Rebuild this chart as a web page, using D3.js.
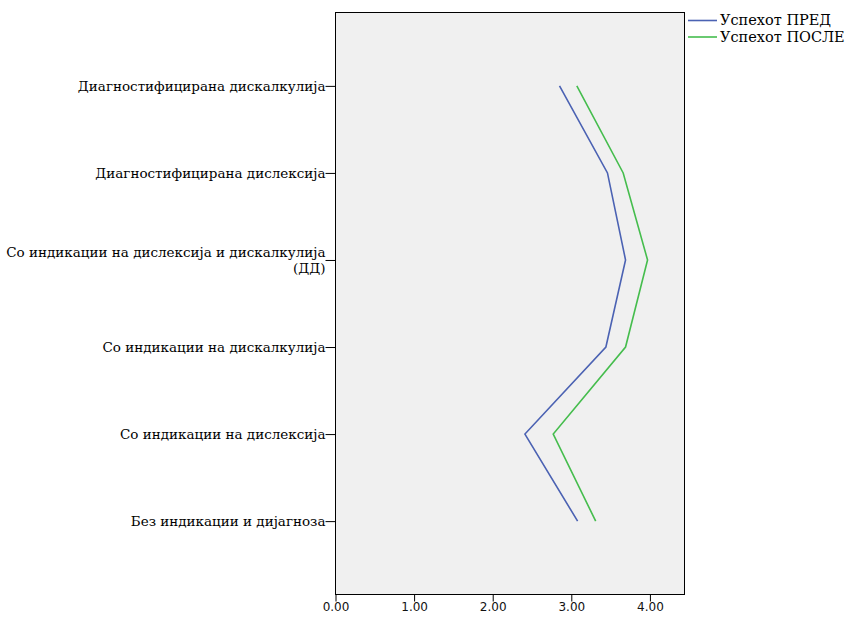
<!DOCTYPE html>
<html><head><meta charset="utf-8">
<script src="https://cdn.jsdelivr.net/npm/d3@7"></script>
<style>body{margin:0;background:#fff}</style>
</head><body>
<svg id="c" width="845" height="620"></svg>
<script>
const categories = [
  "Диагностифицирана дискалкулија",
  "Диагностифицирана дислексија",
  "Со индикации на дислексија и дискалкулија|(ДД)",
  "Со индикации на дискалкулија",
  "Со индикации на дислексија",
  "Без индикации и дијагноза"
];
const seriesNames = ["Успехот ПРЕД", "Успехот ПОСЛЕ"];
const pred  = [2.85, 3.46, 3.69, 3.44, 2.41, 3.08];
const posle = [3.07, 3.66, 3.97, 3.69, 2.77, 3.31];
const xTicks = [0, 1, 2, 3, 4];
const colors = ["#4b62b3", "#45bd4d"];

const svg = d3.select("#c");
const L = 335.5, R = 684.5, T = 12.5, B = 594.5;
const x = d3.scaleLinear().domain([0, 4.44]).range([L, R]);
const y = d3.scalePoint().domain(categories).range([T, B]).padding(0.843);

svg.append("rect").attr("x", L).attr("y", T).attr("width", R - L).attr("height", B - T)
  .attr("fill", "#f0f0f0").attr("stroke", "#000").attr("stroke-width", 1);

// x axis
const xa = svg.append("g").attr("transform", `translate(0,${B})`)
  .call(d3.axisBottom(x).tickValues(xTicks).tickFormat(d3.format(".2f")).tickSize(7).tickSizeOuter(0));
xa.select(".domain").remove();
xa.selectAll("line").attr("stroke", "#000");
xa.selectAll("text").attr("font-family", "DejaVu Sans").attr("font-size", 12).attr("fill", "#111").attr("dy", "0.85em").attr("y", 6);

// y axis
const ya = svg.append("g").attr("transform", `translate(${L},0)`)
  .call(d3.axisLeft(y).tickSize(10).tickSizeOuter(0).tickFormat(""));
ya.select(".domain").remove();
ya.selectAll("line").attr("stroke", "#000");
ya.selectAll(".tick").each(function(d) {
  const parts = d.split("|");
  const t = d3.select(this).append("text")
    .attr("x", -10).attr("text-anchor", "end")
    .attr("font-family", "DejaVu Serif").attr("font-size", 13.5).attr("fill", "#000");
  const off = -(parts.length - 1) * 8;
  parts.forEach((p, i) => {
    t.append("tspan").attr("x", -10).attr("y", off + i * 16).attr("dy", "0.32em").text(p);
  });
});

// lines
const line = d3.line().x(d => x(d[0])).y(d => y(d[1]));
[pred, posle].forEach((vals, i) => {
  svg.append("path")
    .datum(vals.map((v, j) => [v, categories[j]]))
    .attr("d", line).attr("fill", "none")
    .attr("stroke", colors[i]).attr("stroke-width", 1.6);
});

// legend
seriesNames.forEach((n, i) => {
  const ly = 20.5 + i * 16.5;
  svg.append("line").attr("x1", 688).attr("x2", 717).attr("y1", ly).attr("y2", ly)
    .attr("stroke", colors[i]).attr("stroke-width", 1.6);
  svg.append("text").attr("x", 720).attr("y", ly).attr("dy", "0.32em")
    .attr("font-family", "DejaVu Serif").attr("font-size", 14.5).attr("fill", "#000").text(n);
});
</script>
</body></html>
